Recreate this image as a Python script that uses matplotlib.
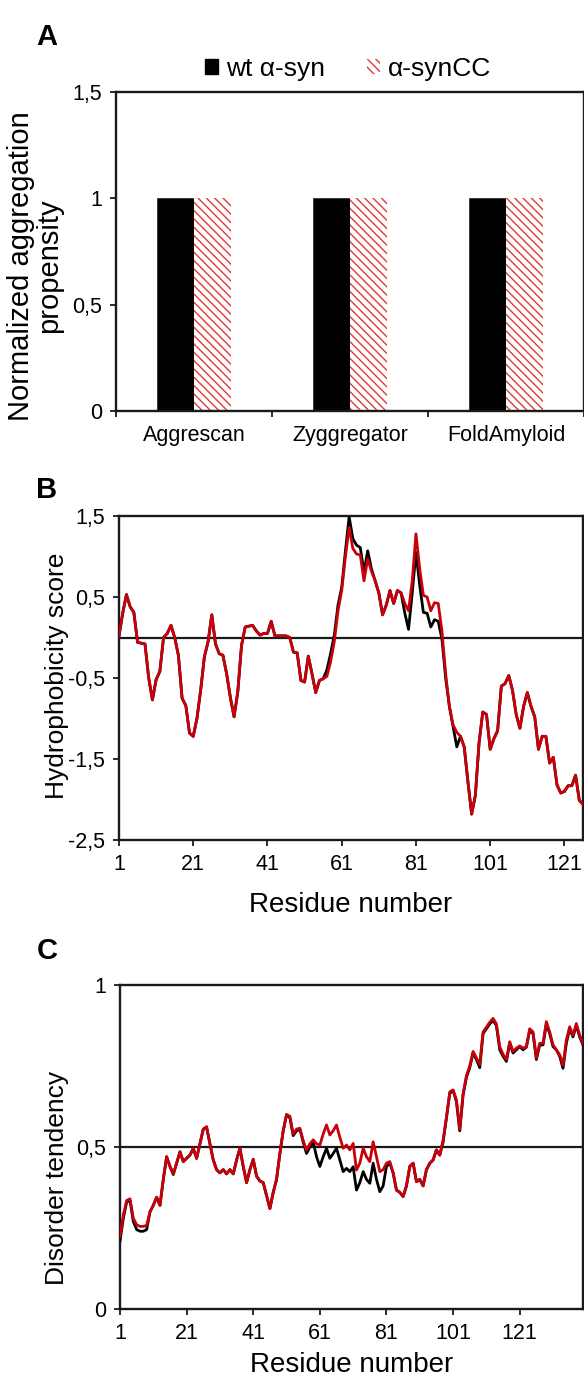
import matplotlib
matplotlib.use("Agg")
import matplotlib.pyplot as plt
from matplotlib.patches import Patch

plt.rcParams['font.family'] = ['Liberation Sans', 'DejaVu Sans']
plt.rcParams['hatch.linewidth'] = 1.0

# ---------------- data ----------------
methods = ["Aggrescan", "Zyggregator", "FoldAmyloid"]
agg_wt = [1.0, 1.0, 1.0]
agg_cc = [1.0, 1.0, 1.0]
series_names = ["wt α-syn", "α-synCC"]
agg_yticks = [0, 0.5, 1, 1.5]
agg_yticklabels = ["0", "0,5", "1", "1,5"]

hyd_res = list(range(1, 127))
hyd_wt = [0.02, 0.30, 0.53, 0.38, 0.31, -0.06, -0.07, -0.08, -0.50, -0.77,
          -0.52, -0.42, 0.00, 0.05, 0.15, 0.00, -0.22, -0.75, -0.84, -1.18,
          -1.22, -1.00, -0.65, -0.24, -0.05, 0.28, -0.08, -0.20, -0.22, -0.45,
          -0.74, -0.98, -0.67, -0.10, 0.13, 0.14, 0.15, 0.08, 0.03, 0.05,
          0.05, 0.20, 0.02, 0.02, 0.02, 0.02, 0.00, -0.18, -0.19, -0.53,
          -0.55, -0.23, -0.45, -0.68, -0.53, -0.51, -0.40, -0.20, 0.03, 0.40,
          0.62, 1.07, 1.49, 1.22, 1.14, 1.11, 0.81, 1.07, 0.85, 0.70,
          0.55, 0.28, 0.40, 0.58, 0.42, 0.58, 0.55, 0.30, 0.10, 0.55,
          1.05, 0.65, 0.31, 0.30, 0.13, 0.22, 0.20, -0.02, -0.50, -0.85,
          -1.10, -1.35, -1.22, -1.35, -1.78, -2.18, -1.95, -1.30, -0.92, -0.95,
          -1.38, -1.25, -1.15, -0.60, -0.57, -0.47, -0.65, -0.95, -1.12, -0.85,
          -0.68, -0.85, -0.98, -1.38, -1.22, -1.22, -1.55, -1.48, -1.82, -1.92,
          -1.90, -1.83, -1.83, -1.70, -2.01, -2.06]
hyd_cc = [0.02, 0.30, 0.53, 0.38, 0.31, -0.06, -0.07, -0.08, -0.50, -0.77,
          -0.52, -0.42, 0.00, 0.05, 0.15, 0.00, -0.22, -0.75, -0.84, -1.18,
          -1.22, -1.00, -0.65, -0.24, -0.05, 0.28, -0.08, -0.20, -0.22, -0.45,
          -0.74, -0.98, -0.67, -0.10, 0.13, 0.14, 0.15, 0.08, 0.03, 0.05,
          0.05, 0.20, 0.02, 0.02, 0.02, 0.02, 0.00, -0.18, -0.19, -0.53,
          -0.55, -0.23, -0.45, -0.68, -0.53, -0.51, -0.48, -0.30, -0.05, 0.33,
          0.58, 1.00, 1.36, 1.10, 1.03, 1.02, 0.70, 0.97, 0.82, 0.70,
          0.55, 0.28, 0.40, 0.58, 0.42, 0.58, 0.55, 0.42, 0.33, 0.70,
          1.28, 0.85, 0.52, 0.50, 0.33, 0.43, 0.42, 0.08, -0.45, -0.85,
          -1.08, -1.17, -1.22, -1.35, -1.78, -2.18, -1.95, -1.30, -0.92, -0.95,
          -1.38, -1.25, -1.15, -0.60, -0.57, -0.47, -0.65, -0.95, -1.12, -0.85,
          -0.68, -0.85, -0.98, -1.38, -1.22, -1.22, -1.55, -1.48, -1.82, -1.92,
          -1.90, -1.83, -1.83, -1.70, -2.01, -2.06]
hyd_yticks = [-2.5, -1.5, -0.5, 0.5, 1.5]
hyd_yticklabels = ["-2,5", "-1,5", "-0,5", "0,5", "1,5"]

dis_res = list(range(1, 141))
dis_wt = [0.21, 0.28, 0.33, 0.335, 0.27, 0.245, 0.24, 0.24, 0.245, 0.30,
          0.32, 0.345, 0.32, 0.40, 0.47, 0.44, 0.415, 0.45, 0.485, 0.455,
          0.465, 0.475, 0.496, 0.465, 0.51, 0.555, 0.56, 0.51, 0.46, 0.43,
          0.42, 0.43, 0.417, 0.43, 0.417, 0.46, 0.496, 0.44, 0.39, 0.43,
          0.462, 0.41, 0.395, 0.39, 0.35, 0.31, 0.36, 0.40, 0.48, 0.55,
          0.60, 0.59, 0.535, 0.55, 0.555, 0.515, 0.48, 0.50, 0.516, 0.47,
          0.44, 0.47, 0.496, 0.465, 0.48, 0.496, 0.46, 0.424, 0.434, 0.424,
          0.439, 0.367, 0.39, 0.424, 0.40, 0.388, 0.45, 0.40, 0.362, 0.38,
          0.44, 0.45, 0.42, 0.367, 0.36, 0.347, 0.38, 0.44, 0.45, 0.393,
          0.40, 0.38, 0.43, 0.45, 0.46, 0.491, 0.475, 0.515, 0.59, 0.665,
          0.675, 0.64, 0.55, 0.66, 0.715, 0.745, 0.79, 0.77, 0.745, 0.85,
          0.865, 0.88, 0.89, 0.875, 0.80, 0.78, 0.764, 0.82, 0.79, 0.80,
          0.81, 0.80, 0.808, 0.86, 0.85, 0.77, 0.815, 0.815, 0.88, 0.85,
          0.81, 0.80, 0.78, 0.743, 0.82, 0.865, 0.84, 0.875, 0.84, 0.815]
dis_cc = [0.223, 0.29, 0.335, 0.34, 0.28, 0.26, 0.255, 0.255, 0.258, 0.30,
          0.32, 0.345, 0.32, 0.40, 0.47, 0.44, 0.417, 0.45, 0.485, 0.455,
          0.465, 0.475, 0.496, 0.465, 0.51, 0.555, 0.563, 0.51, 0.46, 0.43,
          0.42, 0.43, 0.417, 0.43, 0.417, 0.46, 0.496, 0.44, 0.39, 0.43,
          0.462, 0.41, 0.395, 0.39, 0.35, 0.31, 0.36, 0.40, 0.48, 0.55,
          0.60, 0.595, 0.54, 0.555, 0.558, 0.52, 0.49, 0.51, 0.522, 0.51,
          0.506, 0.54, 0.568, 0.537, 0.55, 0.568, 0.53, 0.496, 0.506, 0.491,
          0.511, 0.429, 0.45, 0.496, 0.47, 0.455, 0.516, 0.47, 0.424, 0.43,
          0.45, 0.455, 0.42, 0.367, 0.36, 0.347, 0.38, 0.44, 0.45, 0.393,
          0.40, 0.38, 0.43, 0.45, 0.46, 0.491, 0.475, 0.522, 0.59, 0.67,
          0.676, 0.645, 0.555, 0.665, 0.72, 0.75, 0.795, 0.775, 0.755, 0.855,
          0.87, 0.885, 0.897, 0.88, 0.81, 0.786, 0.77, 0.825, 0.795, 0.805,
          0.812, 0.805, 0.81, 0.865, 0.855, 0.775, 0.82, 0.82, 0.887, 0.855,
          0.815, 0.80, 0.785, 0.753, 0.83, 0.871, 0.845, 0.881, 0.845, 0.82]
dis_yticks = [0, 0.5, 1]
dis_yticklabels = ["0", "0,5", "1"]
res_ticks = [1, 21, 41, 61, 81, 101, 121]

# ---------------- style ----------------
W, H = 584, 1386
fig = plt.figure(figsize=(W / 100, H / 100), dpi=100)
BLACK = "#000000"
RED = "#c8000a"
HATCH_RED = "#e03a3a"
SPINE = "#1a1a1a"
TICK_FS = 15.5
LABEL_FS = 20


def box(l, t, r, b):
    return [l / W, 1 - b / H, (r - l) / W, (b - t) / H]


def style_axes(ax):
    for s in ax.spines.values():
        s.set_linewidth(1.7)
        s.set_color(SPINE)
    ax.tick_params(direction="out", length=4, width=1.3, color=SPINE,
                   labelsize=TICK_FS, pad=6)


# ---------------- Panel A ----------------
axA = fig.add_axes(box(116, 92, 584, 411))
xpos = list(range(len(methods)))
bw = 0.24
axA.bar([x - bw / 2 for x in xpos], agg_wt, width=bw, color=BLACK,
        edgecolor="#333333", linewidth=0.6)
axA.bar([x + bw / 2 for x in xpos], agg_cc, width=bw, color="white",
        edgecolor=HATCH_RED, linewidth=0, hatch="\\\\\\\\")
axA.set_xlim(-0.5, 2.5)
axA.set_ylim(0, 1.5)
axA.set_yticks(agg_yticks)
axA.set_yticklabels(agg_yticklabels)
axA.set_xticks([-0.5, 0.5, 1.5, 2.5])
axA.set_xticklabels([])
axA.set_xticks(xpos, minor=True)
axA.set_xticklabels(methods, minor=True)
style_axes(axA)
axA.tick_params(axis="x", which="minor", length=0, labelsize=TICK_FS, pad=10)
fig.text(35 / W, 1 - 266 / H, "Normalized aggregation\npropensity",
         rotation=90, ha="center", va="center", fontsize=21, linespacing=1.0)

handles = [Patch(facecolor=BLACK, edgecolor=BLACK),
           Patch(facecolor="white", edgecolor=HATCH_RED, linewidth=0,
                 hatch="\\\\\\\\")]
fig.legend(handles, series_names, loc="center", ncol=2,
           bbox_to_anchor=(348 / W, 1 - 69 / H), frameon=False,
           fontsize=19, handlelength=0.5, handleheight=0.5,
           handletextpad=0.3, columnspacing=1.6)

# ---------------- Panel B ----------------
axB = fig.add_axes(box(119, 516, 583, 840))
axB.plot(hyd_res, hyd_wt, color=BLACK, lw=2.0, zorder=3)
axB.plot(hyd_res, hyd_cc, color=RED, lw=2.0, zorder=4)
axB.axhline(0, color=SPINE, lw=1.6, zorder=2)
axB.set_xlim(1, 126)
axB.set_ylim(-2.5, 1.5)
axB.set_yticks(hyd_yticks)
axB.set_yticklabels(hyd_yticklabels)
axB.set_xticks(res_ticks)
style_axes(axB)
axB.set_xlabel("Residue number", fontsize=LABEL_FS, labelpad=12)
fig.text(57 / W, 1 - 676 / H, "Hydrophobicity score", rotation=90,
         ha="center", va="center", fontsize=19)

# ---------------- Panel C ----------------
axC = fig.add_axes(box(120, 985, 583, 1309))
axC.plot(dis_res, dis_wt, color=BLACK, lw=2.0, zorder=3)
axC.plot(dis_res, dis_cc, color=RED, lw=2.0, zorder=4)
axC.axhline(0.5, color=SPINE, lw=1.6, zorder=2)
axC.set_xlim(1, 140)
axC.set_ylim(0, 1)
axC.set_yticks(dis_yticks)
axC.set_yticklabels(dis_yticklabels)
axC.set_xticks(res_ticks)
style_axes(axC)
axC.set_xlabel("Residue number", fontsize=LABEL_FS, labelpad=6)
fig.text(57 / W, 1 - 1178 / H, "Disorder tendency", rotation=90,
         ha="center", va="center", fontsize=19)

# ---------------- panel letters ----------------
for lab, yy in [("A", 37), ("B", 490), ("C", 951)]:
    fig.text(47 / W, 1 - yy / H, lab, fontsize=21, fontweight="bold",
             ha="center", va="center")

fig.savefig("out.png", dpi=100)
